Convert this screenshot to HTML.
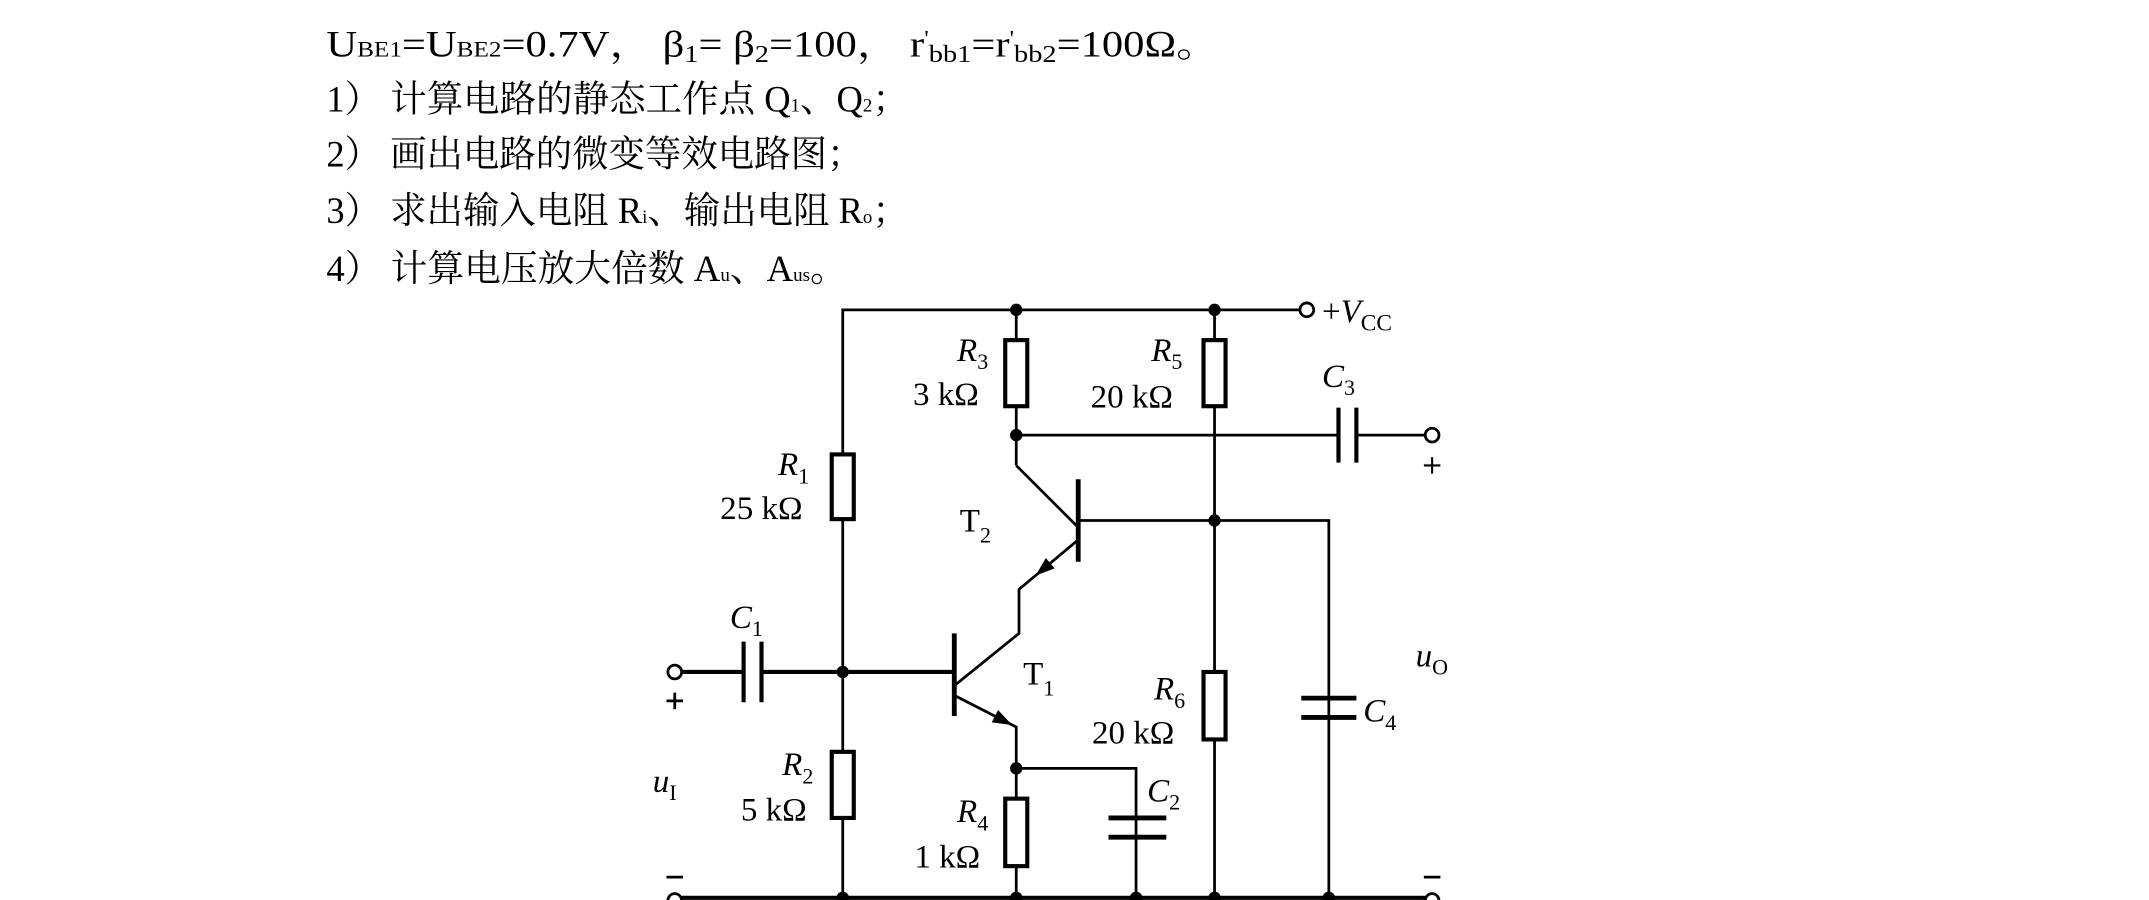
<!DOCTYPE html>
<html><head><meta charset="utf-8"><style>
html,body{margin:0;padding:0;background:#fff;}
svg{display:block}
text{font-family:"Liberation Serif","Noto Serif CJK SC","Noto Sans CJK SC",serif;fill:#000}
</style></head><body>
<svg width="2149" height="900" viewBox="0 0 1560.6 653.6" preserveAspectRatio="none" xmlns="http://www.w3.org/2000/svg">
<g font-size="27">
<text x="237" y="41" textLength="648" lengthAdjust="spacingAndGlyphs">U<tspan font-size="16">BE1</tspan>=U<tspan font-size="16">BE2</tspan>=0.7V， β<tspan font-size="18" dy="4">1</tspan><tspan dy="-4">= β</tspan><tspan font-size="18" dy="4">2</tspan><tspan dy="-4">=100， r</tspan><tspan font-size="16" dy="-8">'</tspan><tspan font-size="18" dy="12">bb1</tspan><tspan dy="-4">=r</tspan><tspan font-size="16" dy="-8">'</tspan><tspan font-size="18" dy="12">bb2</tspan><tspan dy="-4">=100Ω。</tspan></text>
<text x="237" y="81" textLength="423" lengthAdjust="spacingAndGlyphs">1） 计算电路的静态工作点 Q<tspan font-size="14">1</tspan>、Q<tspan font-size="14">2</tspan>；</text>
<text x="237" y="121" textLength="390" lengthAdjust="spacingAndGlyphs">2） 画出电路的微变等效电路图；</text>
<text x="237" y="162" textLength="423" lengthAdjust="spacingAndGlyphs">3） 求出输入电阻 R<tspan font-size="14">i</tspan>、输出电阻 R<tspan font-size="14">o</tspan>；</text>
<text x="237" y="204" textLength="378" lengthAdjust="spacingAndGlyphs">4） 计算电压放大倍数 A<tspan font-size="14">u</tspan>、A<tspan font-size="14">us</tspan>。</text>
</g>
<g stroke="#000" stroke-width="2" fill="none">
<polyline points="612,651 612,225 944,225"/>
<circle cx="949" cy="225" r="5" fill="#fff"/>
<line x1="738" y1="225" x2="738" y2="338"/>
<polyline points="738,338 783,383"/>
<line x1="783" y1="348" x2="783" y2="408" stroke-width="3.5"/>
<polyline points="783,392 740,428 740,460 693,498"/>
<line x1="693" y1="460" x2="693" y2="520" stroke-width="3.5"/>
<polyline points="693,505 738,528 738,651"/>
<line x1="738" y1="316" x2="972" y2="316"/>
<line x1="985" y1="316" x2="1035" y2="316"/>
<line x1="972" y1="296" x2="972" y2="336" stroke-width="3"/>
<line x1="985" y1="296" x2="985" y2="336" stroke-width="3"/>
<circle cx="1040" cy="316" r="5" fill="#fff"/>
<line x1="882" y1="225" x2="882" y2="651"/>
<polyline points="783,378 965,378 965,651"/>
<line x1="945" y1="507" x2="985" y2="507" stroke-width="3.5"/>
<line x1="945" y1="521" x2="985" y2="521" stroke-width="3.5"/>
<polyline points="738,558 825,558 825,651"/>
<line x1="805" y1="594" x2="847" y2="594" stroke-width="3.5"/>
<line x1="805" y1="608" x2="847" y2="608" stroke-width="3.5"/>
<line x1="495" y1="488" x2="540" y2="488" stroke-width="3"/>
<line x1="553" y1="488" x2="693" y2="488" stroke-width="3"/>
<line x1="540" y1="466" x2="540" y2="510" stroke-width="3"/>
<line x1="553" y1="466" x2="553" y2="510" stroke-width="3"/>
<circle cx="490" cy="488" r="5" fill="#fff"/>
<line x1="495" y1="652" x2="1035" y2="652" stroke-width="3"/>
<circle cx="490" cy="654" r="5" fill="#fff"/>
<circle cx="1040" cy="654" r="5" fill="#fff"/>
<rect x="604" y="330" width="16" height="47" fill="#fff" stroke-width="3"/>
<rect x="604" y="546" width="16" height="48" fill="#fff" stroke-width="3"/>
<rect x="730" y="247" width="16" height="48" fill="#fff" stroke-width="3"/>
<rect x="874" y="247" width="16" height="48" fill="#fff" stroke-width="3"/>
<rect x="874" y="488" width="16" height="49" fill="#fff" stroke-width="3"/>
<rect x="730" y="580" width="16" height="49" fill="#fff" stroke-width="3"/>
<line x1="484" y1="509" x2="496" y2="509"/><line x1="490" y1="503" x2="490" y2="515"/>
<line x1="1034" y1="338" x2="1046" y2="338" stroke-width="1.5"/><line x1="1040" y1="332" x2="1040" y2="344" stroke-width="1.5"/>
<line x1="484" y1="637" x2="496" y2="637"/>
<line x1="1034" y1="637" x2="1046" y2="637"/>
</g>
<polygon points="735,526.5 720.2,524.6 724.8,515.6" fill="#000"/>
<polygon points="752,418 765.9,412.8 759.5,405.2" fill="#000"/>
<g fill="#000">
<circle cx="738" cy="225" r="4.5"/><circle cx="882" cy="225" r="4.5"/>
<circle cx="738" cy="316" r="4.5"/><circle cx="882" cy="378" r="4.5"/>
<circle cx="612" cy="488" r="4.5"/><circle cx="738" cy="558" r="4.5"/>
<circle cx="612" cy="652" r="4.5"/><circle cx="738" cy="652" r="4.5"/><circle cx="825" cy="652" r="4.5"/>
<circle cx="882" cy="652" r="4.5"/><circle cx="965" cy="652" r="4.5"/>
</g>
<g font-size="24">
<text x="960" y="234">+<tspan font-style="italic">V</tspan><tspan font-size="17" dy="6">CC</tspan></text>
<text x="695" y="262" font-style="italic">R<tspan font-size="16" font-style="normal" dy="6">3</tspan></text>
<text x="663" y="294">3 kΩ</text>
<text x="836" y="262" font-style="italic">R<tspan font-size="16" font-style="normal" dy="6">5</tspan></text>
<text x="792" y="296">20 kΩ</text>
<text x="960" y="281" font-style="italic">C<tspan font-size="16" font-style="normal" dy="6">3</tspan></text>
<text x="565" y="345" font-style="italic">R<tspan font-size="16" font-style="normal" dy="6">1</tspan></text>
<text x="523" y="377">25 kΩ</text>
<text x="697" y="386">T<tspan font-size="16" dy="8">2</tspan></text>
<text x="530" y="456" font-style="italic">C<tspan font-size="16" font-style="normal" dy="6">1</tspan></text>
<text x="743" y="497">T<tspan font-size="16" dy="8">1</tspan></text>
<text x="1028" y="484" font-style="italic">u<tspan font-size="16" font-style="normal" dy="6">O</tspan></text>
<text x="838" y="508" font-style="italic">R<tspan font-size="16" font-style="normal" dy="6">6</tspan></text>
<text x="793" y="540">20 kΩ</text>
<text x="990" y="524" font-style="italic">C<tspan font-size="16" font-style="normal" dy="6">4</tspan></text>
<text x="568" y="563" font-style="italic">R<tspan font-size="16" font-style="normal" dy="6">2</tspan></text>
<text x="538" y="596">5 kΩ</text>
<text x="474" y="575" font-style="italic">u<tspan font-size="16" font-style="normal" dy="6">I</tspan></text>
<text x="833" y="582" font-style="italic">C<tspan font-size="16" font-style="normal" dy="6">2</tspan></text>
<text x="695" y="597" font-style="italic">R<tspan font-size="16" font-style="normal" dy="6">4</tspan></text>
<text x="664" y="630">1 kΩ</text>
</g>
</svg>
</body></html>
